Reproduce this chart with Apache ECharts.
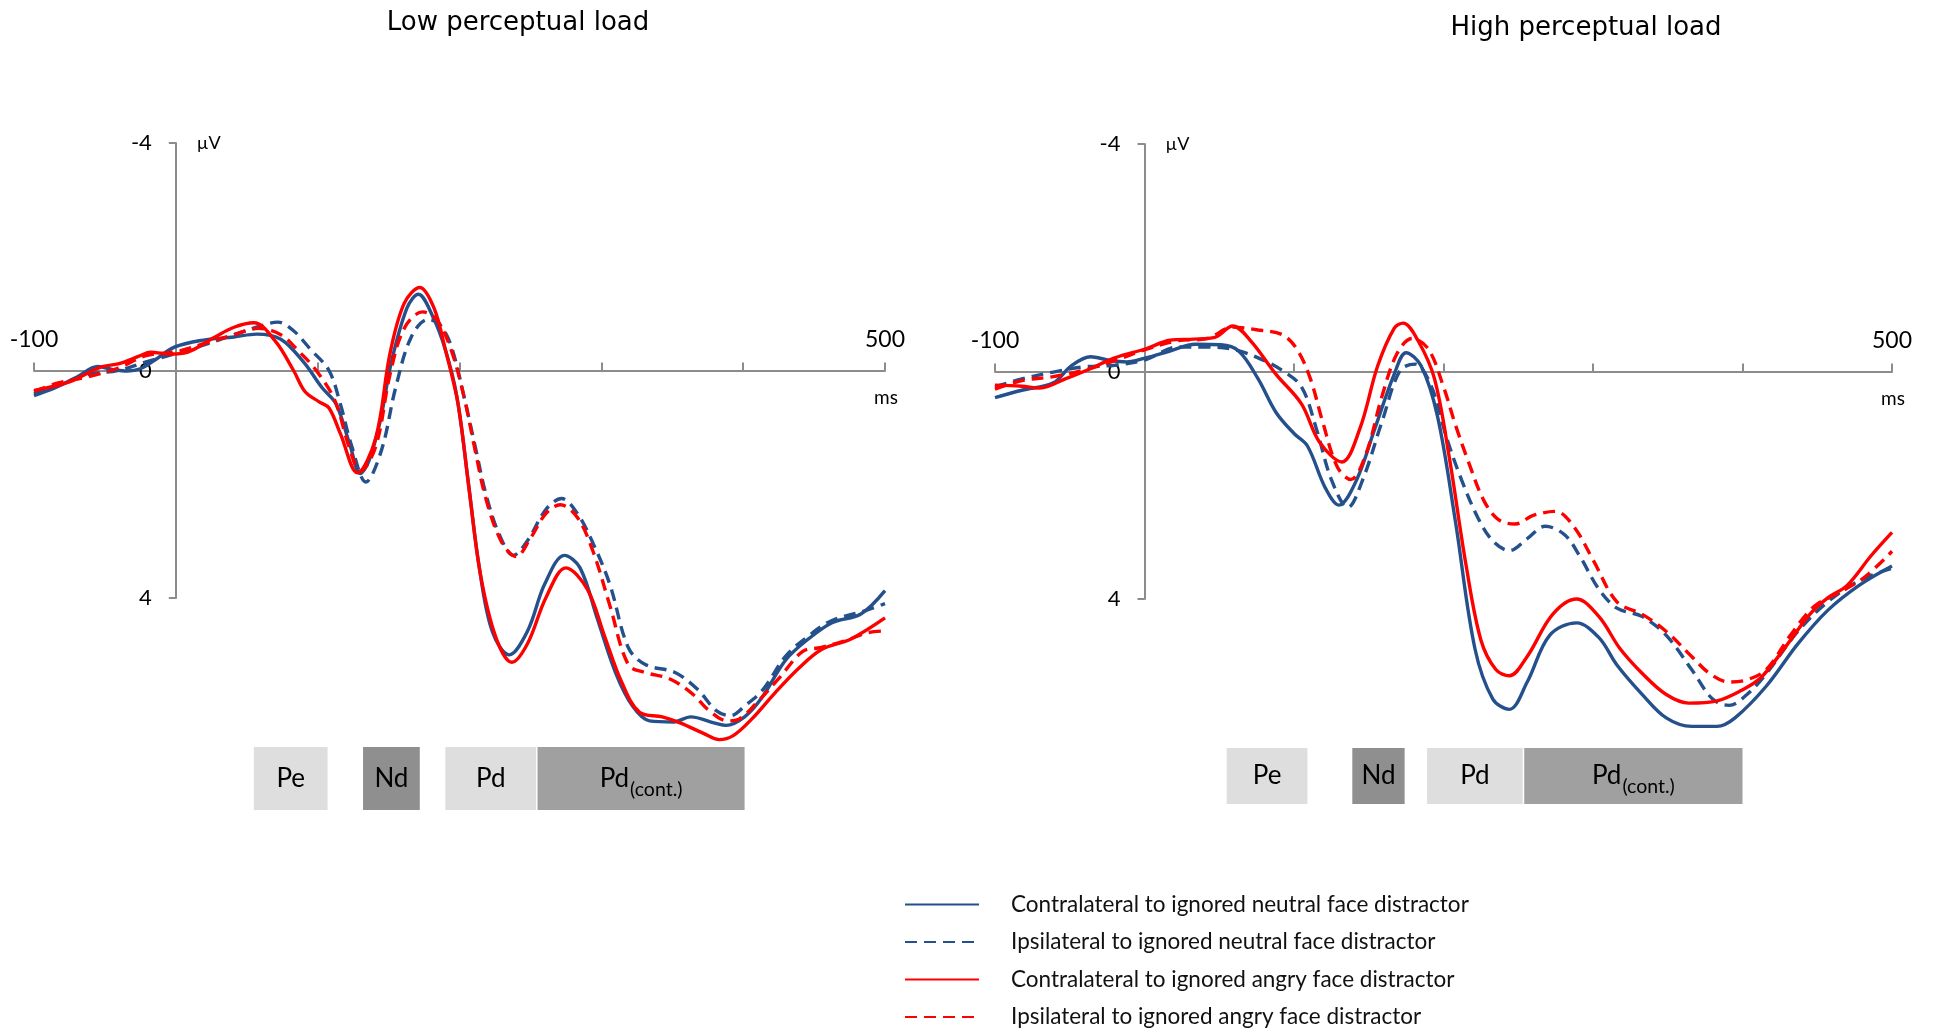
<!DOCTYPE html>
<html>
<head>
<meta charset="utf-8">
<script src="https://cdn.jsdelivr.net/npm/echarts@6/dist/echarts.min.js"></script>
<style>
  html, body { margin: 0; padding: 0; background: #ffffff; }
  #chart { width: 1934px; height: 1033px; }
</style>
</head>
<body>
<div id="chart"></div>
<script>
// ---- ERP waveforms: [time (ms), amplitude (µV)] ----
const seriesNames = [
  'Contralateral to ignored neutral face distractor',
  'Ipsilateral to ignored neutral face distractor',
  'Contralateral to ignored angry face distractor',
  'Ipsilateral to ignored angry face distractor'
];

// Low perceptual load
const lowContraNeutral = [[-100,0.44],[-85,0.3],[-70,0.12],[-55,-0.07],[-45,-0.02],[-34,0.01],[-25,-0.03],[-15,-0.18],[-1,-0.41],[18,-0.53],[41,-0.59],[57,-0.64],[74,-0.55],[90,-0.15],[103,0.3],[113,0.59],[123,1.33],[130,1.81],[136,1.6],[144,0.9],[152,-0.15],[163,-1.1],[171,-1.34],[181,-0.96],[190,-0.37],[198,0.44],[206,1.92],[214,3.47],[223,4.58],[235,5.0],[248,4.58],[260,3.76],[274,3.25],[285,3.47],[297,4.35],[310,5.31],[322,5.9],[334,6.16],[351,6.18],[363,6.09],[380,6.2],[388,6.24],[401,6.09],[413,5.76],[430,5.09],[446,4.72],[463,4.43],[483,4.28],[500,3.87]];
const lowIpsiNeutral = [[-100,0.41],[-83,0.26],[-62,0.07],[-41,0],[-21,-0.15],[0,-0.3],[21,-0.46],[41,-0.63],[58,-0.77],[72,-0.85],[83,-0.7],[95,-0.37],[108,0],[116,0.59],[124,1.33],[134,1.96],[145,1.4],[155,0.3],[166,-0.59],[178,-0.9],[186,-0.81],[194,-0.44],[203,0.44],[211,1.33],[219,2.21],[228,2.88],[238,3.25],[248,2.99],[261,2.44],[272,2.25],[283,2.51],[294,3.03],[306,3.76],[319,4.87],[331,5.17],[352,5.31],[368,5.61],[381,5.98],[391,6.07],[401,5.9],[414,5.61],[430,5.02],[447,4.65],[463,4.39],[484,4.24],[500,4.1]];
const lowContraAngry = [[-100,0.35],[-75,0.2],[-53,-0.06],[-40,-0.12],[-25,-0.26],[-18,-0.32],[-4,-0.29],[8,-0.32],[27,-0.58],[41,-0.76],[55,-0.84],[70,-0.52],[83,0],[91,0.37],[101,0.55],[108,0.66],[116,1.11],[128,1.8],[141,1.18],[151,-0.3],[161,-1.18],[172,-1.46],[182,-1.1],[190,-0.37],[199,0.59],[207,2.14],[215,3.62],[226,4.72],[237,5.13],[248,4.8],[261,3.99],[275,3.47],[290,3.84],[302,4.65],[314,5.46],[327,6.01],[343,6.09],[356,6.2],[372,6.38],[383,6.49],[393,6.42],[406,6.13],[422,5.68],[439,5.24],[455,4.91],[476,4.72],[500,4.35]];
const lowIpsiAngry = [[-100,0.37],[-83,0.22],[-62,0.11],[-41,-0.04],[-21,-0.26],[0,-0.33],[21,-0.48],[41,-0.63],[58,-0.74],[74,-0.63],[87,-0.33],[99,0],[112,0.52],[122,1.33],[130,1.77],[141,1.33],[151,0.07],[161,-0.74],[174,-1.03],[184,-0.89],[194,-0.37],[203,0.44],[211,1.4],[219,2.29],[230,3.03],[240,3.27],[250,2.95],[261,2.51],[271,2.36],[283,2.58],[294,3.17],[306,4.13],[319,5.17],[331,5.31],[348,5.42],[364,5.68],[376,5.98],[389,6.16],[397,6.13],[410,5.83],[426,5.39],[442,4.94],[455,4.87],[471,4.76],[488,4.61],[500,4.58]];

// High perceptual load
const highContraNeutral = [[-100,0.46],[-82,0.33],[-61,0.2],[-49,-0.1],[-36,-0.26],[-24,-0.2],[-12,-0.17],[1,-0.24],[17,-0.36],[34,-0.48],[51,-0.47],[63,-0.36],[76,0.13],[88,0.72],[100,1.09],[109,1.31],[121,2.05],[130,2.35],[142,1.9],[154,1.01],[167,0.05],[175,-0.33],[185,-0.1],[196,0.79],[208,2.64],[221,4.87],[233,5.76],[244,5.94],[256,5.46],[271,4.64],[289,4.42],[304,4.68],[316,5.16],[333,5.68],[349,6.09],[366,6.24],[383,6.24],[395,6.09],[416,5.53],[437,4.79],[457,4.2],[478,3.76],[500,3.42]];
const highIpsiNeutral = [[-100,0.27],[-82,0.13],[-61,0.01],[-41,-0.08],[-20,-0.11],[1,-0.21],[22,-0.43],[42,-0.43],[59,-0.39],[76,-0.24],[92,-0.02],[105,0.27],[115,1.01],[125,1.9],[136,2.39],[146,1.9],[159,0.87],[171,-0.02],[181,-0.13],[192,0.27],[202,1.16],[212,1.9],[223,2.57],[233,2.98],[244,3.15],[256,2.94],[268,2.72],[281,2.87],[291,3.24],[304,3.83],[316,4.16],[333,4.31],[349,4.64],[366,5.24],[380,5.76],[391,5.87],[403,5.68],[416,5.31],[437,4.57],[457,4.05],[478,3.68],[500,3.46]];
const highContraAngry = [[-100,0.24],[-82,0.26],[-70,0.29],[-53,0.13],[-37,-0.04],[-20,-0.24],[1,-0.4],[17,-0.55],[33,-0.57],[47,-0.6],[59,-0.8],[71,-0.54],[88,0.05],[105,0.57],[117,1.24],[132,1.59],[144,1.01],[156,-0.1],[167,-0.76],[173,-0.85],[183,-0.54],[194,0.13],[204,1.53],[215,3.39],[225,4.72],[235,5.24],[244,5.35],[256,5.01],[273,4.27],[289,4.0],[304,4.31],[318,4.87],[333,5.31],[349,5.68],[364,5.83],[383,5.79],[399,5.61],[412,5.39],[428,4.87],[445,4.27],[457,3.98],[470,3.76],[486,3.24],[500,2.83]];
const highIpsiAngry = [[-100,0.31],[-82,0.16],[-61,0.09],[-41,-0.02],[-20,-0.19],[1,-0.39],[22,-0.54],[42,-0.58],[59,-0.78],[76,-0.73],[92,-0.65],[102,-0.39],[111,0.13],[119,0.87],[129,1.68],[138,1.9],[148,1.46],[159,0.42],[169,-0.32],[179,-0.58],[190,-0.39],[200,0.27],[208,0.94],[217,1.61],[227,2.27],[237,2.61],[248,2.68],[260,2.53],[275,2.46],[287,2.72],[300,3.31],[316,4.05],[333,4.27],[349,4.57],[366,5.01],[378,5.31],[391,5.46],[403,5.42],[416,5.24],[432,4.64],[448,4.13],[466,3.87],[482,3.61],[500,3.16]];

// ---- Component time windows (ms) ----
const windowLabels = ['Pe', 'Nd', 'Pd', 'Pd(cont.)'];
const lowWindowStart = [55, 132, 190, 255];
const lowWindowEnd = [107, 172, 254, 401];
const highWindowStart = [55, 139, 189, 254];
const highWindowEnd = [109, 174, 253, 400];

// ---- Axis ranges and tick values ----
const timeMin = -100, timeMax = 500, timeStep = 100;
const ampMin = -4, ampMax = 4, ampStep = 4;
const timeLabelsShown = [-100, 500];
const panelTitles = ['Low perceptual load', 'High perceptual load'];

// ---- Styling ----
const BLUE = '#24508c';
const RED = '#ff0000';
const AXIS_GREY = '#8c8c8c';
const LABEL_FONT = 'Lato, "Open Sans", sans-serif';
const lineColors = [BLUE, BLUE, RED, RED];
const lineDash = ['solid', [12, 7], 'solid', [12, 7]];
const windowFill = ['#dedede', '#8f8f8f', '#dedede', '#a0a0a0'];

const grids = [
  { left: 34, top: 143, width: 851, height: 455 },
  { left: 995, top: 144, width: 897, height: 455 }
];
const boxBand = [ { dy: 149, h: 63 }, { dy: 149, h: 56 } ];

const chart = echarts.init(document.getElementById('chart'), null, { renderer: 'canvas' });

// The time axis sits on the 0 µV line; the amplitude axis sits on 0 ms.
function makeXAxis(i) {
  const g = grids[i];
  return {
    type: 'value', gridIndex: i, position: 'bottom', min: timeMin, max: timeMax, interval: timeStep,
    offset: -g.height * (ampMax - 0) / (ampMax - ampMin),
    axisLine: { onZero: false, lineStyle: { color: AXIS_GREY, width: 2 } },
    axisTick: { show: true, inside: true, length: 8, lineStyle: { color: AXIS_GREY, width: 2 } },
    axisLabel: {
      inside: true, margin: 19, color: '#000', fontFamily: LABEL_FONT, fontSize: 23,
      formatter: v => (timeLabelsShown.indexOf(v) >= 0 ? String(v) : '')
    },
    splitLine: { show: false }
  };
}
function makeYAxis(i) {
  const g = grids[i];
  return {
    type: 'value', gridIndex: i, position: 'left', inverse: true, min: ampMin, max: ampMax, interval: ampStep,
    offset: -g.width * (0 - timeMin) / (timeMax - timeMin),
    axisLine: { show: true, onZero: false, lineStyle: { color: AXIS_GREY, width: 2 } },
    axisTick: { show: true, length: 7, lineStyle: { color: AXIS_GREY, width: 2 } },
    axisLabel: { margin: 24, color: '#000', fontFamily: LABEL_FONT, fontSize: 22 },
    splitLine: { show: false }
  };
}

const waveSets = [
  [lowContraNeutral, lowIpsiNeutral, lowContraAngry, lowIpsiAngry],
  [highContraNeutral, highIpsiNeutral, highContraAngry, highIpsiAngry]
];

const series = [];
waveSets.forEach((set, gi) => {
  set.forEach((data, k) => {
    series.push({
      name: seriesNames[k], type: 'line', xAxisIndex: gi, yAxisIndex: gi,
      data: data, smooth: 0.35, symbol: 'none', showSymbol: false, clip: false,
      lineStyle: { color: lineColors[k], width: 3.4, type: lineDash[k] },
      itemStyle: { color: lineColors[k] },
      z: 3 + k
    });
  });
});

// Component windows drawn as labelled boxes along the time axis, below the traces
function windowSeries(gi, starts, ends) {
  return {
    type: 'custom', xAxisIndex: gi, yAxisIndex: gi, silent: true, clip: false, z: 2,
    data: starts.map((s, k) => [s, ends[k], 0, k]),
    encode: { x: [0, 1], y: 2 },
    renderItem: function (params, api) {
      const k = api.value(3);
      const p0 = api.coord([api.value(0), ampMax]);
      const p1 = api.coord([api.value(1), ampMax]);
      const band = boxBand[gi];
      const top = p0[1] + band.dy;
      const cx = (p0[0] + p1[0]) / 2, cy = top + band.h / 2;
      const label = windowLabels[k];
      const isCont = label.indexOf('(') > 0;
      const textStyle = isCont ? {
        text: '{m|Pd}{s|(cont.)}',
        rich: {
          m: { fontFamily: LABEL_FONT, fontSize: 26, lineHeight: 40, verticalAlign: 'middle', fill: '#000' },
          s: { fontFamily: LABEL_FONT, fontSize: 19.5, lineHeight: 19, padding: [21, 0, 0, 1], verticalAlign: 'top', fill: '#000' }
        },
        x: cx, y: cy, align: 'center', verticalAlign: 'middle'
      } : {
        text: label, x: cx, y: cy, align: 'center', verticalAlign: 'middle',
        fontFamily: LABEL_FONT, fontSize: 26, fill: '#000'
      };
      return {
        type: 'group',
        children: [
          { type: 'rect', shape: { x: p0[0], y: top, width: p1[0] - p0[0], height: band.h }, style: { fill: windowFill[k] } },
          { type: 'text', style: textStyle }
        ]
      };
    }
  };
}
series.push(windowSeries(0, lowWindowStart, lowWindowEnd));
series.push(windowSeries(1, highWindowStart, highWindowEnd));

// Unit labels next to the axes
const graphics = [];
grids.forEach(g => {
  const zeroX = g.left + g.width * (0 - timeMin) / (timeMax - timeMin);
  graphics.push({ type: 'text', left: zeroX + 21, top: g.top - 9,
    style: { text: 'µV', fontFamily: LABEL_FONT, fontSize: 18, fill: '#000' } });
  graphics.push({ type: 'text', left: g.left + g.width - 11, top: g.top + g.height / 2 + 18,
    style: { text: 'ms', fontFamily: LABEL_FONT, fontSize: 19, fill: '#000' } });
});

chart.setOption({
  animation: false,
  backgroundColor: '#ffffff',
  title: [
    { text: panelTitles[0], left: 518, top: 10, textAlign: 'center', padding: 0,
      textStyle: { fontFamily: '"DejaVu Sans"', fontSize: 26, fontWeight: 'normal', color: '#000' } },
    { text: panelTitles[1], left: 1586, top: 15, textAlign: 'center', padding: 0,
      textStyle: { fontFamily: '"DejaVu Sans"', fontSize: 26, fontWeight: 'normal', color: '#000' } }
  ],
  legend: {
    data: seriesNames, orient: 'vertical', left: 904, top: 893,
    itemWidth: 74, itemHeight: 14, itemGap: 14.5, padding: 0,
    itemStyle: { opacity: 0 },
    textStyle: { fontFamily: LABEL_FONT, fontSize: 22.5, color: '#111', padding: [0, 0, 0, 27] }
  },
  grid: grids.map(g => Object.assign({ outerBoundsMode: 'none' }, g)),
  xAxis: [makeXAxis(0), makeXAxis(1)],
  yAxis: [makeYAxis(0), makeYAxis(1)],
  graphic: graphics,
  series: series
});
</script>
</body>
</html>
